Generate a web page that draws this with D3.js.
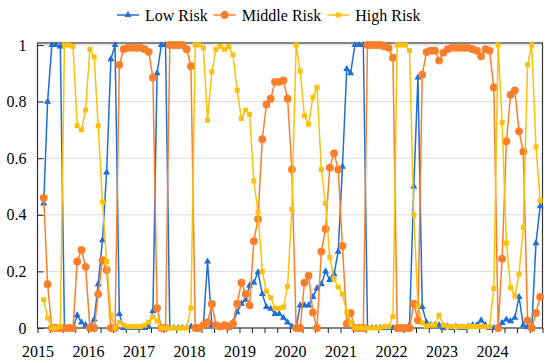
<!DOCTYPE html>
<html>
<head>
<meta charset="utf-8">
<script src="https://cdn.jsdelivr.net/npm/d3@7"></script>
<style>
  body { margin: 0; background: #fff; }
</style>
</head>
<body>
<div id="chart"></div>
<script>
// monthly values, Feb 2015 .. Dec 2024
const firstMonth = new Date(2015, 1, 1);

const lowRisk = [
  0.44, 0.80, 1.0, 1.0, 0.995, 0.0, 0.0, 0.0, 0.045, 0.02,
  0.01, 0.005, 0.03, 0.155, 0.31, 0.55, 0.95, 1.0, 0.05, 0.0,
  0.0, 0.0, 0.0, 0.0, 0.0, 0.005, 0.06, 0.9, 1.0, 1.0,
  0.0, 0.0, 0.0, 0.0, 0.0, 0.005, 0.0, 0.0, 0.01, 0.235,
  0.01, 0.005, 0.0, 0.005, 0.0, 0.02, 0.056, 0.086, 0.1, 0.15,
  0.16, 0.197, 0.12, 0.074, 0.068, 0.05, 0.05, 0.036, 0.02, 0.005,
  0.0, 0.08, 0.08, 0.08, 0.11, 0.14, 0.155, 0.2, 0.17, 0.19,
  0.27, 0.57, 0.915, 0.9, 1.0, 1.0, 1.0, 0.0, 0.0, 0.0,
  0.0, 0.0, 0.0, 0.0, 0.0, 0.0, 0.0, 0.01, 0.5, 0.885,
  0.074, 0.02, 0.01, 0.01, 0.01, 0.0, 0.005, 0.0, 0.005, 0.0,
  0.0, 0.005, 0.01, 0.01, 0.027, 0.01, 0.0, 0.0, 0.0, 0.018,
  0.03, 0.024, 0.036, 0.11, 0.01, 0.003, 0.0, 0.3, 0.43
];

const middleRisk = [
  0.46, 0.155, 0.0, 0.0, 0.0, 0.0, 0.0, 0.0, 0.235, 0.276,
  0.216, 0.0, 0.0, 0.12, 0.24, 0.205, 0.0, 0.0, 0.93, 0.985,
  0.99, 0.99, 0.99, 0.99, 0.985, 0.976, 0.885, 0.07, 0.0, 0.0,
  1.0, 1.0, 1.0, 1.0, 0.985, 0.925, 0.0, 0.0, 0.01, 0.02,
  0.085, 0.01, 0.005, 0.01, 0.005, 0.015, 0.086, 0.16, 0.12, 0.08,
  0.307, 0.385, 0.667, 0.79, 0.81, 0.87, 0.87, 0.875, 0.81, 0.56,
  0.0, 0.0, 0.16, 0.185, 0.055, 0.0, 0.27, 0.35, 0.567, 0.617,
  0.56, 0.29, 0.015, 0.053, 0.0, 0.0, 0.0, 1.0, 1.0, 1.0,
  1.0, 0.995, 0.99, 0.955, 0.0, 0.0, 0.0, 0.0, 0.086, 0.027,
  0.895, 0.975, 0.98, 0.98, 0.945, 0.973, 0.985, 0.99, 0.99, 0.99,
  0.99, 0.99, 0.985, 0.98, 0.96, 0.985, 0.98, 0.85, 0.0, 0.245,
  0.66, 0.824, 0.84, 0.695, 0.623, 0.027, 0.0, 0.053, 0.11
];

const highRisk = [
  0.1, 0.035, 0.0, 0.0, 0.005, 1.0, 1.0, 0.995, 0.715, 0.70,
  0.77, 0.985, 0.958, 0.715, 0.445, 0.235, 0.045, 0.0, 0.02, 0.01,
  0.005, 0.005, 0.005, 0.005, 0.01, 0.02, 0.04, 0.025, 0.0, 0.0,
  0.0, 0.0, 0.0, 0.0, 0.0, 0.07, 1.0, 1.0, 0.99, 0.734,
  0.905, 0.985, 0.995, 0.985, 0.995, 0.965, 0.84, 0.74, 0.77, 0.755,
  0.52, 0.41, 0.2, 0.13, 0.107, 0.07, 0.07, 0.074, 0.147, 0.42,
  1.0, 0.908, 0.75, 0.72, 0.815, 0.85, 0.56, 0.44, 0.25, 0.174,
  0.145, 0.12, 0.056, 0.02, 0.0, 0.0, 0.0, 0.0, 0.0, 0.0,
  0.0, 0.005, 0.005, 0.04, 1.0, 1.0, 1.0, 0.98, 0.4, 0.08,
  0.018, 0.007, 0.01, 0.01, 0.045, 0.01, 0.005, 0.005, 0.005, 0.005,
  0.005, 0.005, 0.005, 0.005, 0.005, 0.005, 0.005, 0.14, 1.0, 0.726,
  0.3, 0.142, 0.113, 0.19, 0.356, 0.93, 1.0, 0.64, 0.45
];

const seriesNames = ["Low Risk", "Middle Risk", "High Risk"];
const seriesColors = ["#1f6fd6", "#fb7f2a", "#fcc10a"];
const yTicks = [0, 0.2, 0.4, 0.6, 0.8, 1];
const yearTicks = [2015, 2016, 2017, 2018, 2019, 2020, 2021, 2022, 2023, 2024];

const serif = "'Liberation Serif', 'DejaVu Serif', 'Times New Roman', serif";

const width = 550, height = 363;
const margin = {top: 43, left: 37.5, right: 7.5, bottom: 35};

const svg = d3.select("#chart")
    .append("svg")
    .attr("width", width)
    .attr("height", height);

// mid-month positions
const dates = lowRisk.map(function(d, i) {
  return new Date(firstMonth.getFullYear(), firstMonth.getMonth() + i, 15);
});

const xScale = d3.scaleTime()
    .domain([new Date(2015, 0, 1), new Date(2025, 0, 1)])
    .range([margin.left, width - margin.right]);

const yScale = d3.scaleLinear()
    .domain([0, 1])
    .range([height - margin.bottom, 45]);

// gridlines
svg.append("g")
    .selectAll("line")
    .data(yTicks.filter(function(d) { return d > 0; }))
    .enter().append("line")
      .attr("x1", margin.left)
      .attr("x2", width - margin.right)
      .attr("y1", function(d) { return yScale(d); })
      .attr("y2", function(d) { return yScale(d); })
      .attr("stroke", "#d9d9d9")
      .attr("stroke-width", 1);

// x axis with quarterly ticks
const quarterTicks = d3.timeMonth.every(3).range(new Date(2015, 0, 1), new Date(2025, 0, 2));
const xAxis = svg.append("g")
    .attr("transform", `translate(0,${height - margin.bottom})`)
    .call(d3.axisBottom(xScale)
      .tickValues(quarterTicks)
      .tickSize(5)
      .tickFormat(function(d) {
        return (d.getMonth() === 0 && yearTicks.indexOf(d.getFullYear()) >= 0) ? d.getFullYear() : "";
      }));
xAxis.select(".domain").remove();
xAxis.selectAll(".tick line").attr("stroke", "#222");
xAxis.selectAll("text")
    .style("font-family", serif)
    .style("font-size", "16px")
    .attr("fill", "#000")
    .attr("dy", "1.3em");

// y axis
const yAxis = svg.append("g")
    .attr("transform", `translate(${margin.left},0)`)
    .call(d3.axisLeft(yScale)
      .tickValues(yTicks)
      .tickSize(-6)
      .tickPadding(11)
      .tickFormat(d3.format("~g")));
yAxis.select(".domain").remove();
yAxis.selectAll(".tick line").attr("stroke", "#222");
yAxis.selectAll("text")
    .style("font-family", serif)
    .style("font-size", "16px")
    .attr("fill", "#000");

// frame
svg.append("rect")
    .attr("x", margin.left)
    .attr("y", margin.top)
    .attr("width", width - margin.right - margin.left)
    .attr("height", height - margin.bottom - margin.top)
    .attr("fill", "none")
    .attr("stroke", "#333")
    .attr("stroke-width", 1.2);

const allSeries = [lowRisk, middleRisk, highRisk];

const line = d3.line()
    .x(function(d, i) { return xScale(dates[i]); })
    .y(function(d) { return yScale(d); });

function drawMarker(sel, k) {
  if (k === 0) {
    sel.append("path").attr("d", d3.symbol().type(d3.symbolTriangle).size(22)());
  } else if (k === 1) {
    sel.append("circle").attr("r", 3.9);
  } else {
    sel.append("rect")
      .attr("x", -2.5).attr("y", -2.5)
      .attr("width", 5).attr("height", 5);
  }
}

allSeries.forEach(function(values, k) {
  const g = svg.append("g").attr("fill", seriesColors[k]);

  g.append("path")
      .datum(values)
      .attr("d", line)
      .attr("fill", "none")
      .attr("stroke", seriesColors[k])
      .attr("stroke-width", 1.5);

  g.selectAll("g.pt")
      .data(values)
      .enter().append("g")
        .attr("class", "pt")
        .attr("transform", function(d, i) { return `translate(${xScale(dates[i])},${yScale(d)})`; })
        .each(function() { drawMarker(d3.select(this), k); });
});

// legend
const legend = svg.append("g").attr("transform", "translate(117,15)");
let lx = 0;
seriesNames.forEach(function(name, k) {
  const item = legend.append("g").attr("transform", `translate(${lx},0)`).attr("fill", seriesColors[k]);
  item.append("line")
      .attr("x1", 0).attr("x2", 22)
      .attr("stroke", seriesColors[k])
      .attr("stroke-width", 1.5);
  const m = item.append("g").attr("transform", "translate(11,0)");
  drawMarker(m, k);
  const t = item.append("text")
      .attr("x", 28)
      .attr("dy", "0.35em")
      .style("font-family", serif)
      .style("font-size", "16px")
      .attr("fill", "#000")
      .text(name);
  lx += 28 + t.node().getComputedTextLength() + 6;
});
</script>
</body>
</html>
